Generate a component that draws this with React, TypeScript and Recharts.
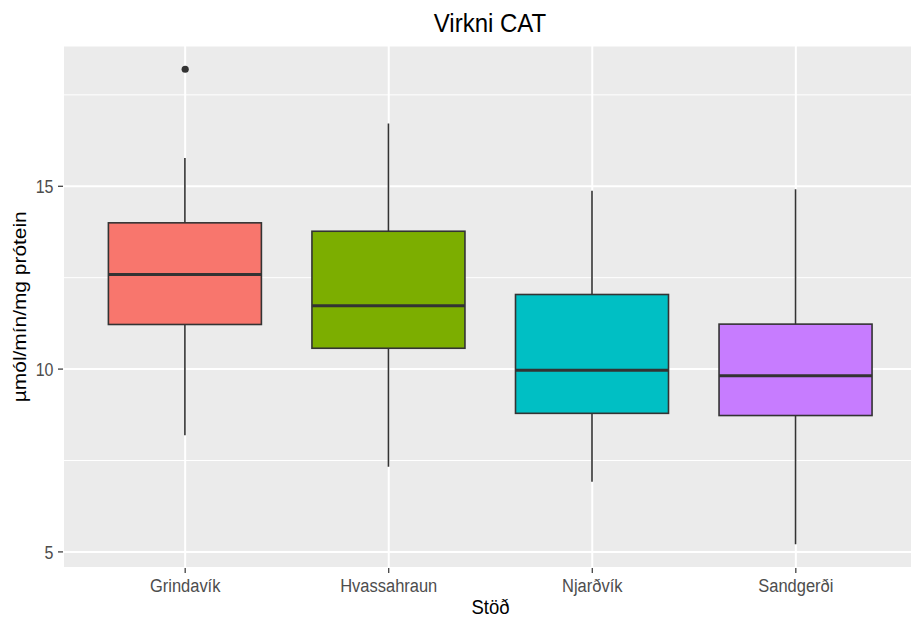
import React from 'react';
import {
  Bar,
  CartesianGrid,
  ComposedChart,
  Label,
  Scatter,
  XAxis,
  YAxis,
} from 'recharts';

// Stations and their box statistics (activity, µmól/mín/mg prótein)
const stations = ['Grindavík', 'Hvassahraun', 'Njarðvík', 'Sandgerði'];
const whiskerLow = [8.19, 7.33, 6.92, 5.21];
const q1 = [11.22, 10.57, 8.79, 8.73];
const median = [12.59, 11.73, 9.97, 9.82];
const q3 = [14.0, 13.77, 12.04, 11.23];
const whiskerHigh = [15.77, 16.72, 14.88, 14.92];
const fills = ['#F8766D', '#7CAE00', '#00BFC4', '#C77CFF'];

const outlierStations = ['Grindavík'];
const outlierValues = [18.2];

const yTicks = [5, 10, 15];
const minorTicks = [7.5, 12.5, 17.5];

const data = stations.map((name, i) => ({
  name,
  lo: whiskerLow[i],
  q1: q1[i],
  med: median[i],
  q3: q3[i],
  hi: whiskerHigh[i],
  fill: fills[i],
}));

const outliers = outlierStations.map((name, i) => ({ name, value: outlierValues[i] }));

const FONT = '"Liberation Sans", Arial, sans-serif';
// text is drawn slightly taller than wide
const STRETCH = 1.1;

// Draws one box: whisker line over the full range, then the IQR box and median
function BoxShape(props: any) {
  const { x, y, width, height, payload } = props;
  const top = Math.min(y, y + height);
  const bottom = Math.max(y, y + height);
  const span = payload.hi - payload.lo;
  const toPx = (v: number) => top + ((payload.hi - v) / span) * (bottom - top);
  const cx = x + width / 2;
  const yQ3 = toPx(payload.q3);
  const yQ1 = toPx(payload.q1);
  const yMed = toPx(payload.med);
  return (
    <g>
      <line x1={cx} x2={cx} y1={top} y2={bottom} stroke="#333333" strokeWidth={1.6} />
      <rect
        x={x}
        y={yQ3}
        width={width}
        height={yQ1 - yQ3}
        fill={payload.fill}
        stroke="#333333"
        strokeWidth={1.6}
      />
      <line x1={x} x2={x + width} y1={yMed} y2={yMed} stroke="#333333" strokeWidth={3} />
    </g>
  );
}

function XTick({ x, y, payload }: any) {
  return (
    <g transform={`translate(${x},${y}) scale(1,${STRETCH})`}>
      <text x={0} y={15.3} textAnchor="middle" fontFamily={FONT} fontSize={16.5} fill="#4D4D4D">
        {payload.value}
      </text>
    </g>
  );
}

function YTick({ x, y, payload }: any) {
  return (
    <g transform={`translate(${x},${y}) scale(1,${STRETCH})`}>
      <text x={-2.5} y={6.2} textAnchor="end" fontFamily={FONT} fontSize={16} fill="#4D4D4D">
        {payload.value}
      </text>
    </g>
  );
}

export default function App() {
  return (
    <div
      style={{
        position: 'absolute',
        left: 0,
        top: 0,
        width: 911,
        height: 619,
        overflow: 'hidden',
        background: '#ffffff',
      }}
    >
      <ComposedChart
        width={918}
        height={619}
        data={data}
        margin={{ top: 45.5, right: 0, bottom: 0, left: 0 }}
      >
        <text
          transform={`translate(490,32) scale(1,1.05)`}
          textAnchor="middle"
          fontFamily={FONT}
          fontSize={24}
          fill="#000"
        >
          Virkni CAT
        </text>
        <CartesianGrid
          fill="#EBEBEB"
          stroke="#FFFFFF"
          strokeWidth={1}
          vertical={false}
          horizontalValues={minorTicks}
        />
        <CartesianGrid stroke="#FFFFFF" strokeWidth={2} />
        <XAxis
          dataKey="name"
          type="category"
          allowDuplicatedCategory={false}
          height={51}
          padding={{ left: 20.4, right: 20.4 }}
          axisLine={false}
          tickLine={{ stroke: '#333333', strokeWidth: 1.2 }}
          tickSize={5}
          tickMargin={2}
          tick={<XTick />}
        >
          <Label
            content={({ viewBox }: any) => (
              <text
                transform={`translate(${viewBox.x + viewBox.width / 2},614) scale(1,1.08)`}
                textAnchor="middle"
                fontFamily={FONT}
                fontSize={18.5}
                fill="#000"
              >
                Stöð
              </text>
            )}
          />
        </XAxis>
        <YAxis
          type="number"
          width={63}
          domain={[4.56, 18.85]}
          ticks={yTicks}
          allowDataOverflow
          axisLine={false}
          tickLine={{ stroke: '#333333', strokeWidth: 1.2 }}
          tickSize={5}
          tickMargin={2}
          tick={<YTick />}
        >
          <Label
            content={({ viewBox }: any) => {
              const cx = 26;
              const cy = viewBox.y + viewBox.height / 2;
              return (
                <text
                  transform={`translate(${cx},${cy}) scale(1,${STRETCH}) rotate(-90)`}
                  textAnchor="middle"
                  fontFamily={FONT}
                  fontSize={19}
                  fill="#000"
                >
                  µmól/mín/mg prótein
                </text>
              );
            }}
          />
        </YAxis>
        <Bar
          dataKey={(d: any) => [d.lo, d.hi]}
          barSize={153}
          shape={BoxShape}
          isAnimationActive={false}
        />
        <Scatter
          data={outliers}
          dataKey="value"
          fill="#333333"
          isAnimationActive={false}
          shape={(p: any) => <circle cx={p.cx} cy={p.cy} r={3.6} fill="#333333" />}
        />
      </ComposedChart>
    </div>
  );
}
